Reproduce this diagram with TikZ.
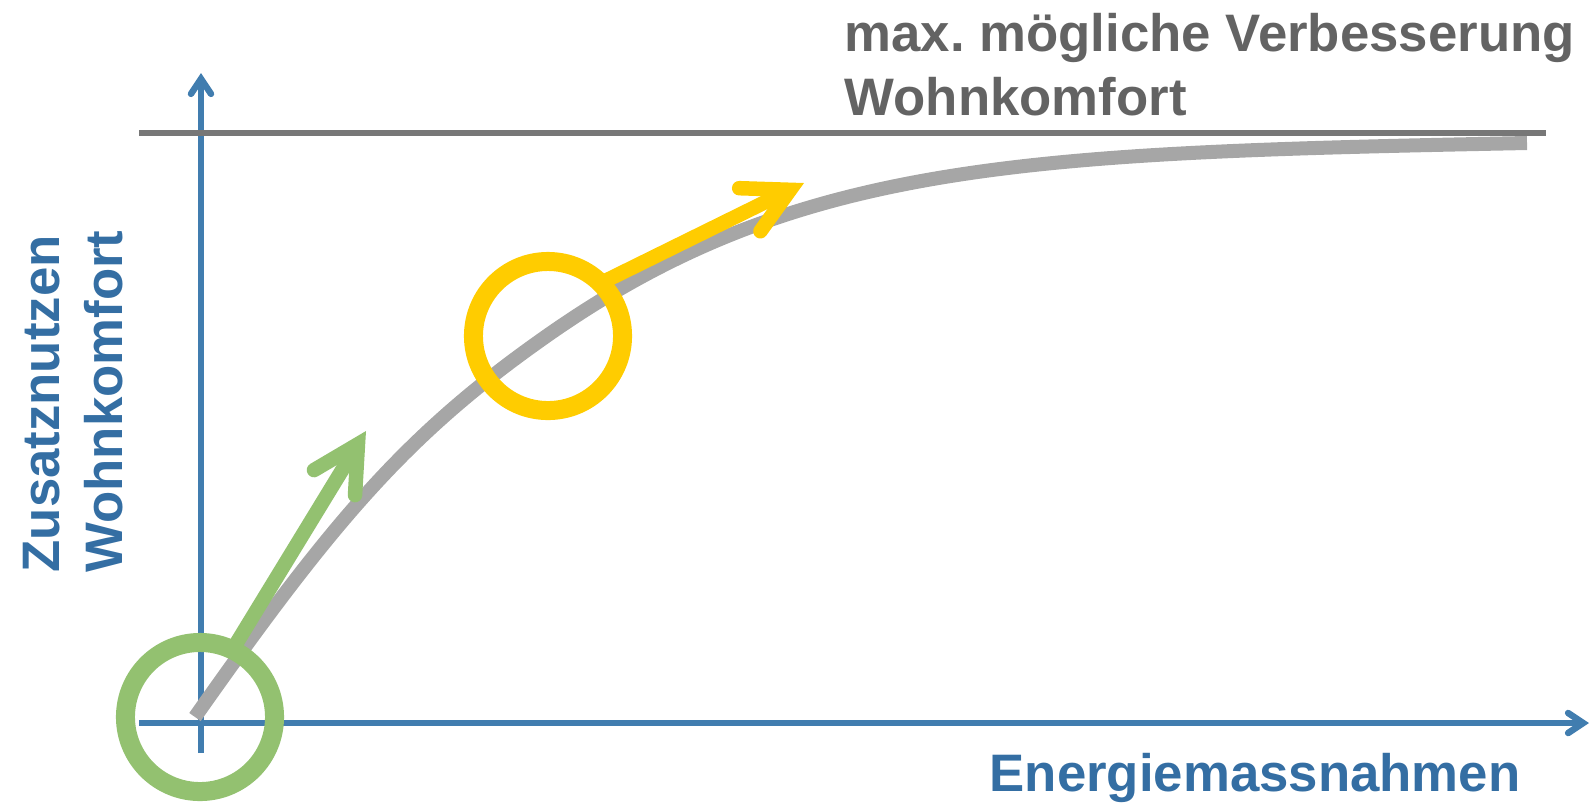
\documentclass[tikz,border=0pt]{standalone}
\usepackage{fontspec}
\setmainfont{Liberation Sans}
\usepackage{tikz}
\usetikzlibrary{arrows.meta}
\definecolor{achsblau}{RGB}{65,125,175}
\definecolor{textblau}{RGB}{52,110,163}
\definecolor{textgrau}{RGB}{99,99,99}
\definecolor{liniengrau}{RGB}{119,119,119}
\definecolor{kurvengrau}{RGB}{166,166,166}
\definecolor{gruen}{RGB}{147,193,112}
\definecolor{gelb}{RGB}{255,204,0}
\frenchspacing

\begin{document}
\begin{tikzpicture}[x=0.01cm,y=-0.01cm,
    axis/.style={achsblau,line width=0.065cm,-{Straight Barb[length=0.15cm,width=0.2cm,line cap=round,line join=miter]}},
    ring/.style={circle,line width=0.19cm,minimum size=1.49cm,inner sep=0pt},
    pfeil/.style={line width=0.145cm,-{Straight Barb[length=0.45cm,width=0.48cm,line cap=round,line join=miter]}},
    beschr/.style={font=\bfseries\fontsize{15pt}{18pt}\selectfont,inner sep=0pt}]
      \useasboundingbox (0,0) rectangle (1590,802);
      % Achsen
      \coordinate (yunten) at (201,753);
      \coordinate (yoben) at (201,73);
      \coordinate (xlinks) at (139,723);
      \coordinate (xrechts) at (1589,723);
      \draw[axis] (yunten) -- (yoben);
      \draw[axis] (xlinks) -- (xrechts);
      % Obergrenze
      \coordinate (maxA) at (139,133);
      \coordinate (maxB) at (1546,133);
      \draw[liniengrau,line width=0.065cm] (maxA) -- (maxB);
      % Kurve
      \coordinate (kurveA) at (195,717);
      \coordinate (kurveB) at (548,335);
      \coordinate (kurveC) at (1527,143);
      \draw[kurvengrau,line width=0.14cm] (kurveA) .. controls (335,518) and (408,433) .. (kurveB)
        .. controls (798,160) and (1027,153) .. (kurveC);
      % Kreise und Pfeile
      \node[ring,draw=gruen] (kreisA) at (200,717) {};
      \node[ring,draw=gelb] (kreisB) at (548,336) {};
      \coordinate (gruenA) at (236,644);
      \coordinate (gruenB) at (366,431);
      \coordinate (gelbA) at (597,285);
      \coordinate (gelbB) at (804,183);
      \draw[pfeil,gruen] (gruenA) -- (gruenB);
      \draw[pfeil,gelb] (gelbA) -- (gelbB);
      % Beschriftungen
      \node[beschr,textgrau,anchor=base west] (maxtext) at (844,51) {max. mögliche Verbesserung};
      \node[beschr,textgrau,anchor=base west] (komforttext) at (844,115) {Wohnkomfort};
      \node[beschr,textblau,anchor=base west] (xtext) at (989,791) {Energiemassnahmen};
      \node[beschr,textblau,anchor=base west,rotate=90] (ytextA) at (59,573) {Zusatznutzen};
      \node[beschr,textblau,anchor=base west,rotate=90] (ytextB) at (122,573) {Wohnkomfort};
    \end{tikzpicture}
\end{document}
